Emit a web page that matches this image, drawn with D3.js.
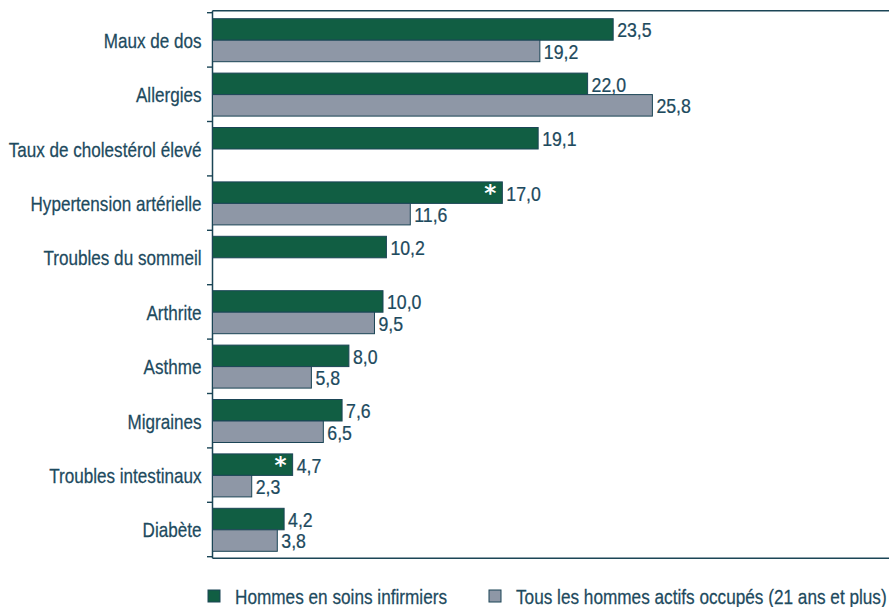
<!DOCTYPE html>
<html><head><meta charset="utf-8">
<script src="https://cdn.jsdelivr.net/npm/d3@7"></script>
<style>body{margin:0;background:#fff}</style>
</head><body>
<svg id="c" width="889" height="607"></svg>
<script>
const categories = ["Maux de dos","Allergies","Taux de cholestérol élevé","Hypertension artérielle","Troubles du sommeil","Arthrite","Asthme","Migraines","Troubles intestinaux","Diabète"];
const nurses = [23.5,22.0,19.1,17.0,10.2,10.0,8.0,7.6,4.7,4.2];
const allMen = [19.2,25.8,null,11.6,null,9.5,5.8,6.5,2.3,3.8];
const significant = [false,false,false,true,false,false,false,false,true,false];
const seriesNames = ["Hommes en soins infirmiers","Tous les hommes actifs occupés (21 ans et plus)"];

(function(){
const FONT = "'Liberation Sans',Arial,sans-serif";
const FS = 20;
const txt = "#1d4a5e";
const cGreen = "#115e43", cGray = "#8e97a6", stroke = "#1b4556";
const svg = d3.select("#c");
const pLeft = 212.5, bTop = 12.7, bBottom = 556.7;
const x = d3.scaleLinear().domain([0,40]).range([pLeft, pLeft + 682]);
const y = d3.scaleBand().domain(categories).range([bTop, bBottom]).paddingInner(0).paddingOuter(0);
const inner = d3.scaleBand().domain([0,1]).range([6, 49]);

function ctext(sel, xf, yf, sx){
  return sel.attr("transform", (d,i)=>`translate(${xf(d,i)},${yf(d,i)}) scale(${sx},1)`)
    .attr("font-family",FONT).attr("font-size",FS).attr("fill",txt)
    .attr("stroke",txt).attr("stroke-width",0.25).attr("dominant-baseline","central");
}

svg.append("line").attr("x1",pLeft).attr("x2",889).attr("y1",10.8).attr("y2",10.8).attr("stroke",stroke).attr("stroke-width",1.4);
svg.append("line").attr("x1",pLeft).attr("x2",889).attr("y1",558.3).attr("y2",558.3).attr("stroke",stroke).attr("stroke-width",1.4);
svg.append("line").attr("x1",pLeft).attr("x2",pLeft).attr("y1",10.8).attr("y2",558.3).attr("stroke",stroke).attr("stroke-width",1.5);
const bounds = categories.map(c => y(c)).concat([bBottom]);
svg.selectAll(".tk").data(bounds).join("line").attr("class","tk").attr("x1",pLeft-5.5).attr("x2",pLeft).attr("y1",d=>d).attr("y2",d=>d).attr("stroke",stroke).attr("stroke-width",1.4);

ctext(svg.selectAll(".cl").data(categories).join("text").attr("class","cl"),
  ()=>pLeft-11, d=>y(d)+y.bandwidth()/2+1, 0.855).attr("text-anchor","end").text(d=>d);

const rows = [];
categories.forEach((c,i)=>{
  rows.push({c, s:0, v:nurses[i], star:significant[i]});
  if (allMen[i] != null) rows.push({c, s:1, v:allMen[i], star:false});
});
const g = svg.append("g");
g.selectAll("rect").data(rows).join("rect")
  .attr("x", x(0)).attr("y", d=>y(d.c)+inner(d.s))
  .attr("width", d=>x(d.v)-x(0)).attr("height", inner.bandwidth())
  .attr("fill", d=>d.s===0?cGreen:cGray).attr("stroke",stroke).attr("stroke-width",1);
ctext(g.selectAll(".vl").data(rows).join("text").attr("class","vl"),
  d=>x(d.v)+4, d=>y(d.c)+inner(d.s)+inner.bandwidth()/2+1, 0.885)
  .text(d=>d3.format(".1f")(d.v).replace(".",","));
g.selectAll(".st").data(rows.filter(d=>d.star)).join("text").attr("class","st")
  .attr("x", d=>x(d.v)-6).attr("y", d=>y(d.c)+inner(d.s)+inner.bandwidth()/2+8)
  .attr("text-anchor","end")
  .attr("font-family","'DejaVu Sans',sans-serif").attr("font-size",23).attr("font-weight","bold").attr("fill","#fff").text("*");

const lx = [208, 489];
const lg = svg.selectAll(".lg").data(seriesNames).join("g").attr("class","lg").attr("transform",(d,i)=>`translate(${lx[i]},590)`);
lg.append("rect").attr("width",12).attr("height",12).attr("fill",(d,i)=>i===0?cGreen:cGray).attr("stroke",stroke).attr("stroke-width",1);
ctext(lg.append("text"), ()=>27, ()=>7, 0.86).text(d=>d);
})();
</script>
</body></html>
